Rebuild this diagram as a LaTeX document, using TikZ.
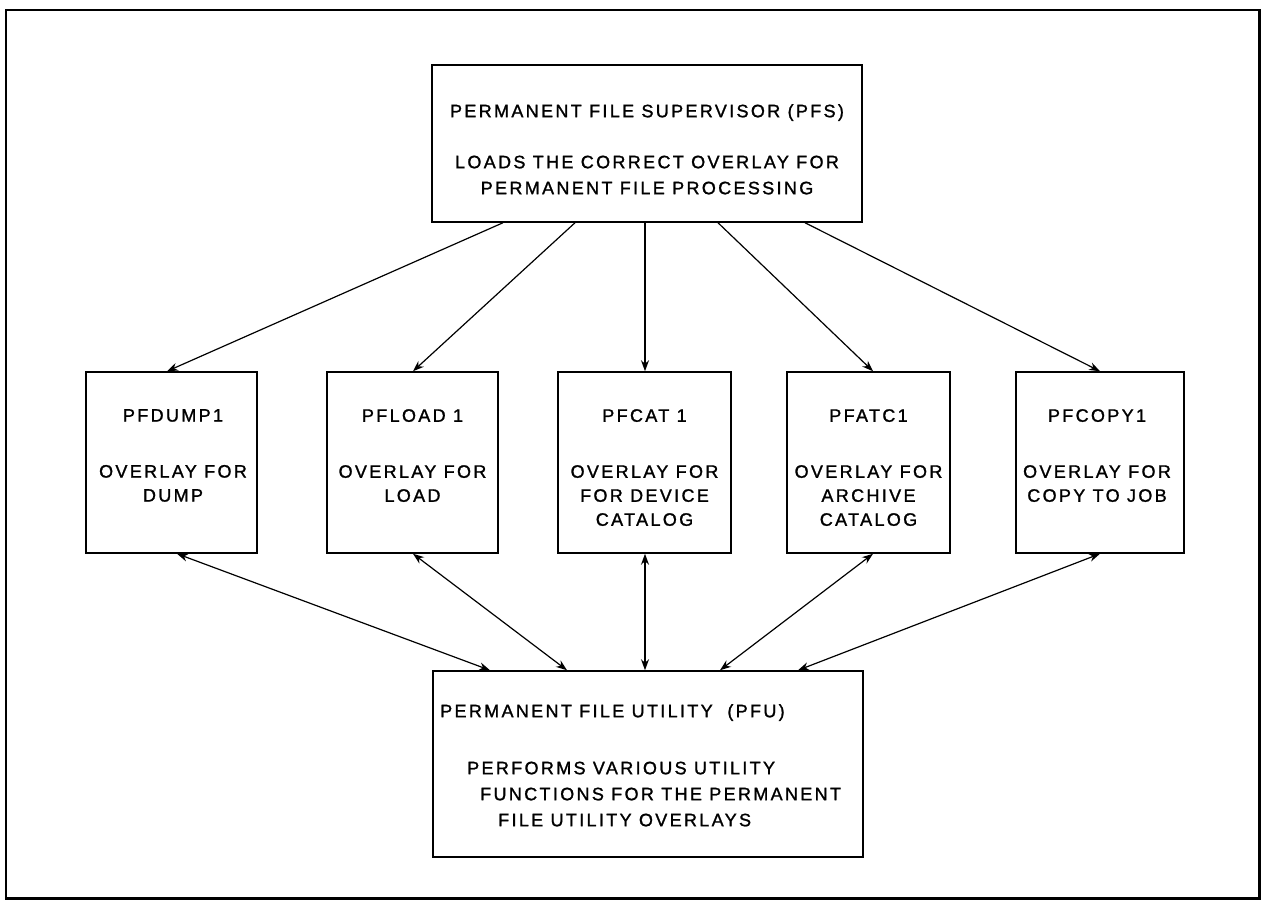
\documentclass[tikz,border=0pt]{standalone}
\usepackage{fontspec}
\setmainfont{Liberation Sans}[LetterSpace=13,FakeBold=1.3]
\usetikzlibrary{arrows.meta}
\begin{document}
\begin{tikzpicture}[x=1pt,y=-1pt,
  box/.style={draw, line width=1.5pt, inner sep=0pt},
  txt/.style={inner sep=0pt, font=\fontsize{18}{24}\selectfont},
  arr/.style={line width=1.2pt, -{Stealth[length=11pt,width=8pt]}},
  darr/.style={line width=1.2pt, {Stealth[length=11pt,width=8pt]}-{Stealth[length=11pt,width=8pt]}}]
\useasboundingbox (0,0) rectangle (1262,901);
\draw[line width=2.2pt] (6,10) rectangle (1259.5,898.5);
% top box
\node[box, minimum width=430pt, minimum height=157pt] (top) at (647,143.5) {};
\node[txt, anchor=north, align=center, font=\fontsize{18}{26}\selectfont] (topt) at (647,104)
  {PERMANENT FILE SUPERVISOR (PFS)\\[25pt]LOADS THE CORRECT OVERLAY FOR\\PERMANENT FILE PROCESSING};
% middle boxes
\node[box, minimum width=171pt, minimum height=181pt] (b1) at (171.5,462.5) {};
\node[box, minimum width=171pt, minimum height=181pt] (b2) at (412.5,462.5) {};
\node[box, minimum width=173pt, minimum height=181pt] (b3) at (644.5,462.5) {};
\node[box, minimum width=163pt, minimum height=181pt] (b4) at (868.5,462.5) {};
\node[box, minimum width=168pt, minimum height=181pt] (b5) at (1100,462.5) {};
\node[txt, anchor=north, align=center] (b1t) at (173,409) {PFDUMP1\\[32pt]OVERLAY FOR\\DUMP};
\node[txt, anchor=north, align=center] (b2t) at (412.5,409) {PFLOAD 1\\[32pt]OVERLAY FOR\\LOAD};
\node[txt, anchor=north, align=center] (b3t) at (644.5,409) {PFCAT 1\\[32pt]OVERLAY FOR\\FOR DEVICE\\CATALOG};
\node[txt, anchor=north, align=center] (b4t) at (868.5,409) {PFATC1\\[32pt]OVERLAY FOR\\ARCHIVE\\CATALOG};
\node[txt, anchor=north, align=center] (b5t) at (1097,409) {PFCOPY1\\[32pt]OVERLAY FOR\\COPY TO JOB};
% bottom box
\node[box, minimum width=430pt, minimum height=186pt] (pfu) at (648,764) {};
\node[txt, anchor=north west, align=left, font=\fontsize{18}{26}\selectfont] (pfut) at (440,704)
  {PERMANENT FILE UTILITY\ \ (PFU)\\[31pt]\hspace*{27pt}PERFORMS VARIOUS UTILITY\\\hspace*{40pt}FUNCTIONS FOR THE PERMANENT\\\hspace*{58pt}FILE UTILITY OVERLAYS};
% arrows top -> middle
\draw[arr] ([xshift=-144pt]top.south) -- ([xshift=-4.5pt]b1.north);
\draw[arr] ([xshift=-72pt]top.south) -- ([xshift=0.5pt]b2.north);
\draw[arr] ([xshift=-2pt]top.south) -- ([xshift=0.5pt]b3.north);
\draw[arr] ([xshift=71pt]top.south) -- ([xshift=4.5pt]b4.north);
\draw[arr] ([xshift=158pt]top.south) -- (b5.north);
% arrows middle <-> bottom
\draw[darr] ([xshift=5.5pt]b1.south) -- ([xshift=-158pt]pfu.north);
\draw[darr] ([xshift=0.5pt]b2.south) -- ([xshift=-81pt]pfu.north);
\draw[darr] ([xshift=0.5pt]b3.south) -- ([xshift=-3pt]pfu.north);
\draw[darr] ([xshift=4.5pt]b4.south) -- ([xshift=72pt]pfu.north);
\draw[darr] (b5.south) -- ([xshift=150pt]pfu.north);
\end{tikzpicture}
\end{document}
